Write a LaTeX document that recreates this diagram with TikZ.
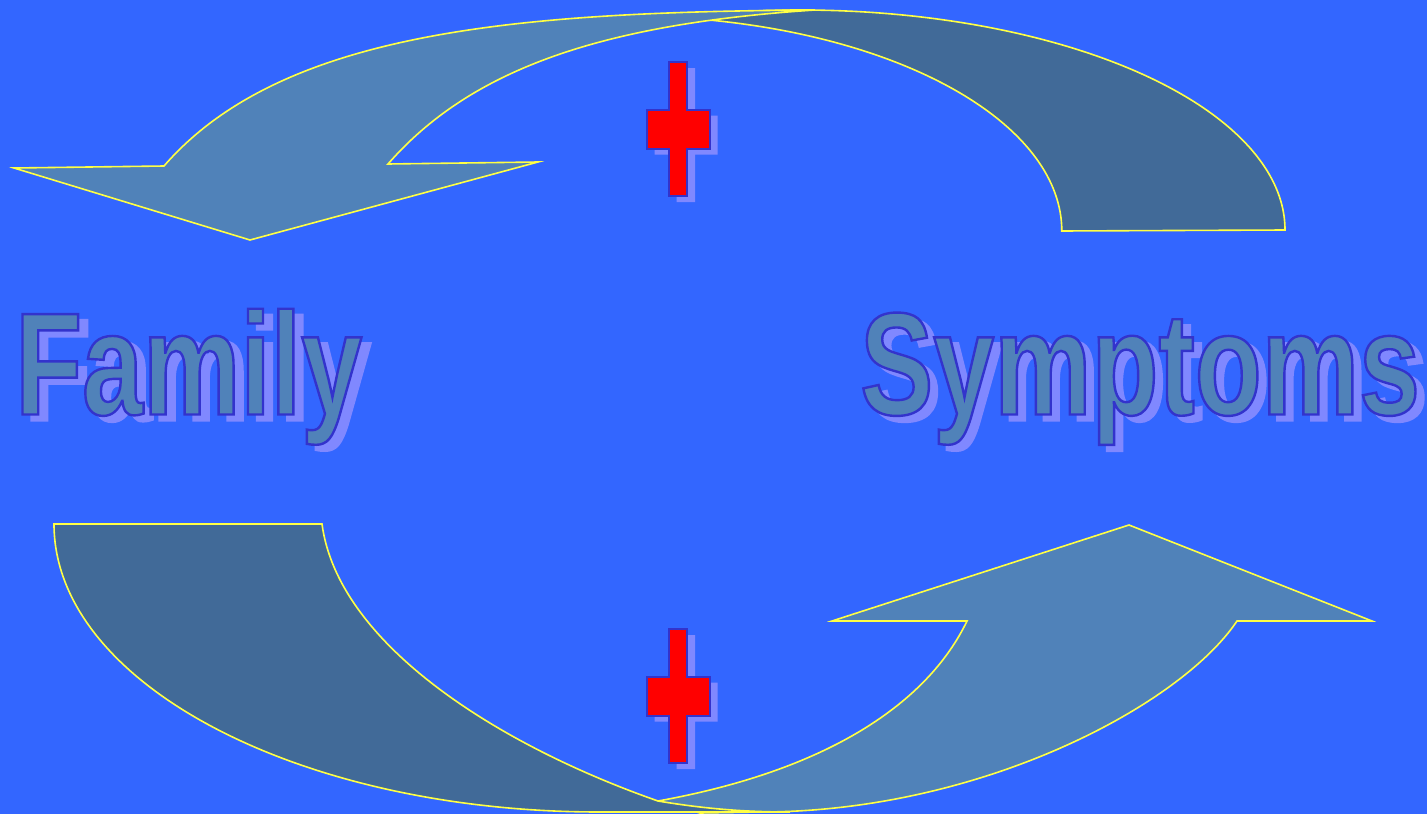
\documentclass[tikz,border=0pt]{standalone}
\usepackage{fontspec}
\newfontfamily\artfont{Liberation Sans}[FakeStretch=0.75]

\definecolor{bgblue}{HTML}{3366FF}
\definecolor{armlight}{HTML}{5082B9}
\definecolor{armdark}{HTML}{416A98}
\definecolor{rimyellow}{HTML}{FFFF44}
\definecolor{inkblue}{HTML}{3333CC}
\definecolor{shade}{HTML}{8088FF}

% filled text with a stroked rim (#1 = rim colour as r g b)
\newcommand{\rimtext}[2]{\special{pdf:literal direct #1 RG 2 Tr 2.4 w}#2\special{pdf:literal direct 0 Tr}}

\tikzset{
  band/.style={draw=rimyellow, line width=1.6pt},
  lightband/.style={band, fill=armlight},
  darkband/.style={band, fill=armdark},
  crossbar/.style={fill=red, draw=inkblue, line width=2pt},
  crossshade/.style={fill=shade},
  wordart/.style={inner sep=0pt, anchor=base west,
    font=\artfont\bfseries\fontsize{146}{150}\selectfont}
}

\begin{document}
\begin{tikzpicture}[x=1pt,y=-1pt]
        % Background
        \fill[bgblue] (0,0) rectangle (1427,814);
        \useasboundingbox (0,0) rectangle (1427,814);

        % Top curved arrow: back half, then the half with the head
        \draw[darkband] (1061,231) -- (1285,230)
            arc[start angle=0, end angle=-96, x radius=485, y radius=220]
            -- (709,20) arc[start angle=-79, end angle=0, x radius=436, y radius=215] -- cycle;
        \draw[lightband] (164,166) .. controls (282,30) and (521,12) .. (815,10)
            .. controls (600,24) and (470,70) .. (388,164)
            -- (538,162) -- (250,240) -- (14,168) -- cycle;

        % Bottom curved arrow: the half with the head, then the back half
        \draw[lightband] (1237,621) .. controls (1180,706) and (980,812) .. (760,812) -- (700,813) -- (658,801)
            .. controls (830,770) and (928,702) .. (967,621)
            -- (832,621) -- (1129,525) -- (1372,621) -- cycle;
        \draw[darkband] (54,524) -- (322,524) .. controls (338,644) and (498,745) .. (658,801)
            .. controls (700,808) and (740,812) .. (790,812) -- (600,812)
            arc[start angle=90, end angle=180, x radius=546, y radius=288] -- cycle;

        % Red crosses with their shadows
        \foreach \dy in {0,567} {
            \begin{scope}[shift={(0,\dy)}]
                \fill[crossshade, shift={(8,6)}] (668.5,62) -- (687,62) -- (687,109.5) -- (709.5,109.5)
                    -- (709.5,148.5) -- (687,148.5) -- (687,196) -- (668.5,196) -- (668.5,148.5)
                    -- (646.5,148.5) -- (646.5,109.5) -- (668.5,109.5) -- cycle;
                \draw[crossbar] (668.5,62) -- (687,62) -- (687,109.5) -- (709.5,109.5)
                    -- (709.5,148.5) -- (687,148.5) -- (687,196) -- (668.5,196) -- (668.5,148.5)
                    -- (646.5,148.5) -- (646.5,109.5) -- (668.5,109.5) -- cycle;
            \end{scope}
        }

        % Words
        \node[wordart, text=shade] (familyshade) at (24,420.5) {\rimtext{0.5 0.533 1}{Family}};
        \node[wordart, text=armlight] (family) at (15,414.5) {\rimtext{0.2 0.2 0.8}{Family}};
        \node[wordart, text=shade] (symptomsshade) at (868,420.5) {\rimtext{0.5 0.533 1}{Symptoms}};
        \node[wordart, text=armlight] (symptoms) at (860,414.5) {\rimtext{0.2 0.2 0.8}{Symptoms}};
\end{tikzpicture}
\end{document}
